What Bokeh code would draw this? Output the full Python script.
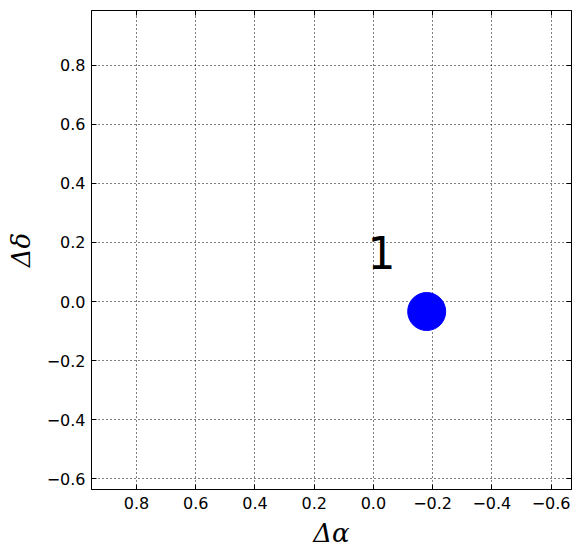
from bokeh.plotting import figure
from bokeh.models import Range1d, FixedTicker, CustomJSTickFormatter, LinearAxis, ColumnDataSource
from bokeh.embed import file_html
from bokeh.resources import INLINE
from bokeh.core.properties import value

# data
star_x = [-0.18]
star_y = [-0.034]
star_labels = ["1"]
label_dx = 0.2
label_dy = 0.2
tick_values = [-0.6, -0.4, -0.2, 0.0, 0.2, 0.4, 0.6, 0.8]

p = figure(width=580, height=558, output_backend="svg", toolbar_location=None,
           x_range=Range1d(0.952, -0.669), y_range=Range1d(-0.637, 0.986),
           min_border_left=91, min_border_right=9, min_border_top=10, min_border_bottom=69,
           x_axis_label="Δα", y_axis_label="Δδ")
p.background_fill_color = "white"
p.border_fill_color = "white"
p.outline_line_color = "black"
p.outline_line_width = 1

fmt = CustomJSTickFormatter(code="""
const s = Math.abs(tick).toFixed(1);
return tick < -1e-9 ? "\u2212" + s : s;
""")

for ax in p.xaxis + p.yaxis:
    ax.ticker = FixedTicker(ticks=tick_values)
    ax.formatter = fmt
    ax.major_tick_in = 5
    ax.major_tick_out = 0
    ax.minor_tick_line_color = None
    ax.major_label_text_font = "DejaVu Sans"
    ax.major_label_text_font_size = "16px"
    ax.major_label_text_color = "black"
    ax.axis_line_color = "black"
    ax.major_tick_line_color = "black"
    ax.axis_label_text_font = "DejaVu Serif"
    ax.axis_label_text_font_style = "italic"
    ax.axis_label_text_font_size = "26px"
    ax.axis_label_text_color = "black"

p.xaxis.major_label_standoff = 7
p.yaxis.major_label_standoff = 6
p.xaxis.axis_label_standoff = 6
p.yaxis.axis_label_standoff = 8

top = LinearAxis(ticker=FixedTicker(ticks=tick_values), major_label_text_font_size="0px",
                 major_tick_in=5, major_tick_out=0, minor_tick_line_color=None,
                 major_label_text_color=None)
right = LinearAxis(ticker=FixedTicker(ticks=tick_values), major_label_text_font_size="0px",
                   major_tick_in=5, major_tick_out=0, minor_tick_line_color=None,
                   major_label_text_color=None)
p.add_layout(top, "above")
p.add_layout(right, "right")

for g in p.xgrid + p.ygrid:
    g.ticker = FixedTicker(ticks=tick_values)
    g.grid_line_color = "black"
    g.grid_line_dash = "1 3"
    g.grid_line_width = 1

src = ColumnDataSource(dict(x=star_x, y=star_y, t=star_labels,
                            tx=[v + label_dx for v in star_x],
                            ty=[v + label_dy for v in star_y]))
p.scatter("x", "y", source=src, size=38, fill_color="#0000ff", line_color="#0000ff")
p.text("tx", "ty", text="t", source=src, text_font=value("DejaVu Sans"),
       text_font_size="44px", text_align="left", text_baseline="alphabetic", text_color="black")

open("out.html", "w").write(file_html(p, INLINE))
